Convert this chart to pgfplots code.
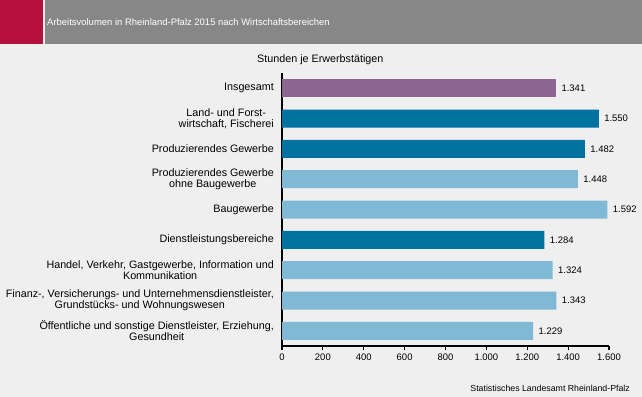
\documentclass[border=0pt]{standalone}
\usepackage{fontspec}
\setmainfont{Liberation Sans}
\usepackage{pgfplots}
\pgfplotsset{compat=1.18}
\pgfkeys{/pgf/number format/.cd, assume math mode=true, use comma, 1000 sep={.}}
\definecolor{bg}{HTML}{EEEFEE}
\definecolor{hdr}{HTML}{878787}
\definecolor{hred}{HTML}{B5103E}
\definecolor{cpurple}{HTML}{8C6690}
\definecolor{cdark}{HTML}{0072A2}
\definecolor{clight}{HTML}{80B9D5}
\begin{document}
\begin{tikzpicture}
\fill[bg] (0bp,0bp) rectangle (642bp,397bp);
\fill[hred] (0bp,352.5bp) rectangle (43bp,397bp);
\fill[hdr] (44.5bp,352.5bp) rectangle (642bp,397bp);
\node[anchor=west, text=white, font=\fontsize{9.5}{12}\selectfont, inner sep=0pt] at (47bp,375bp) {Arbeitsvolumen in Rheinland-Pfalz 2015 nach Wirtschaftsbereichen};
\node[anchor=west, font=\fontsize{10.8}{12}\selectfont, inner sep=0pt] at (257bp,337.7bp) {Stunden je Erwerbstätigen};
\node[anchor=east, font=\fontsize{8.8}{10}\selectfont, inner sep=0pt] at (630bp,9bp) {Statistisches Landesamt Rheinland-Pfalz};
\begin{axis}[
  at={(282bp,51bp)}, anchor=south west,
  scale only axis, width=327bp, height=273bp,
  xbar, bar shift=0pt, bar width=18bp,
  xmin=0, xmax=1600,
  ymin=-0.5, ymax=8.5, y dir=reverse,
  axis x line*=bottom, axis y line*=left,
  axis line style={-, line width=1.2pt},
  xtick={0,200,...,1600},
  ytick={0,...,8},
  yticklabels={Insgesamt,{Land- und Forst-\\wirtschaft, Fischerei},Produzierendes Gewerbe,{Produzierendes Gewerbe\\ohne Baugewerbe},Baugewerbe,Dienstleistungsbereiche,{Handel, Verkehr, Gastgewerbe, Information und\\Kommunikation},{Finanz-, Versicherungs- und Unternehmensdienstleister,\\Grundstücks- und Wohnungswesen},{Öffentliche und sonstige Dienstleister, Erziehung,\\Gesundheit}},
  minor ytick={-0.5,0.5,...,8.5},
  tick align=outside,
  major tick length=4bp, minor tick length=4bp,
  ytick style={draw=none},
  minor tick style={draw=black, line width=1.2pt},
  xtick style={draw=black, line width=1.2pt},
  yticklabel style={align=center, font=\fontsize{10.8}{11}\selectfont, inner sep=0pt, xshift=-4bp},
  xticklabel style={font=\fontsize{9.5}{11}\selectfont, inner sep=0pt, yshift=-4bp},
  scaled x ticks=false,
  nodes near coords, nodes near coords align={horizontal},
  every node near coord/.append style={font=\fontsize{9.5}{11}\selectfont, anchor=west, xshift=2bp, text=black},
  clip=false,
]
\addplot[fill=cpurple, draw=none] coordinates {(1341,0)};
\addplot[fill=cdark, draw=none] coordinates {(1550,1) (1482,2) (1284,5)};
\addplot[fill=clight, draw=none] coordinates {(1448,3) (1592,4) (1324,6) (1343,7) (1229,8)};
\end{axis}
\end{tikzpicture}
\end{document}
